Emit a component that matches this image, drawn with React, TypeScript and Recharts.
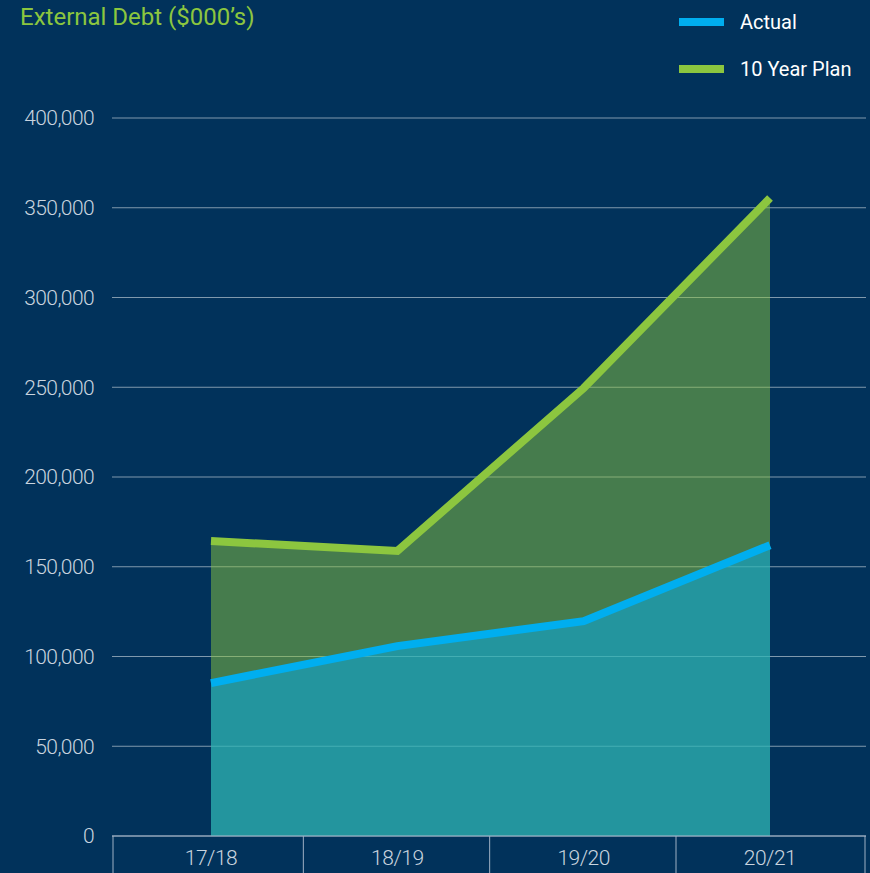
import { AreaChart, Area, XAxis, YAxis, CartesianGrid } from 'recharts'

const years = ['17/18', '18/19', '19/20', '20/21']
const actual = [85200, 105800, 119700, 162000]
const tenYearPlan = [164300, 158800, 249500, 355400]
const yTicks = [0, 50000, 100000, 150000, 200000, 250000, 300000, 350000, 400000]

const BG = '#01325b'
const GREEN = '#8cc63f'
const BLUE = '#00aeef'
const TEXT = '#c9d4df'
const FONT = 'Roboto, "Liberation Sans", Arial, sans-serif'

const data = years.map((year, i) => ({ year, actual: actual[i], plan: tenYearPlan[i] }))

// category label plus the short divider lines hanging under the axis
function YearTick(props: any) {
  const { x, y, payload, index } = props
  const left = index === 0 ? 98 : 94
  return (
    <g>
      <line x1={x - left} y1={y - 8} x2={x - left} y2={y + 40} stroke="#9fb0c4" strokeWidth={1} />
      {index === years.length - 1 && (
        <line x1={x + 95} y1={y - 8} x2={x + 95} y2={y + 40} stroke="#9fb0c4" strokeWidth={1} />
      )}
      <text
        x={x} y={y + 21} textAnchor="middle" fill={TEXT}
        fontSize={21} fontWeight={300} letterSpacing={-0.5} fontFamily={FONT}
      >
        {payload.value}
      </text>
    </g>
  )
}

function LegendRow({ color, label, top }: { color: string; label: string; top: number }) {
  return (
    <div style={{ position: 'absolute', left: 679, top, display: 'flex', alignItems: 'center' }}>
      <div style={{ width: 45, height: 8, background: color }} />
      <span style={{ marginLeft: 16, color: '#ffffff', fontSize: 20, fontFamily: FONT }}>{label}</span>
    </div>
  )
}

export default function App() {
  return (
    <div style={{ position: 'absolute', left: 0, top: 0, width: 870, height: 873, background: BG, overflow: 'hidden' }}>
      <div
        style={{
          position: 'absolute', left: 20, top: 3, color: GREEN,
          fontSize: 24, fontFamily: FONT,
        }}
      >
        External Debt ($000’s)
      </div>
      <LegendRow color={BLUE} label="Actual" top={10} />
      <LegendRow color={GREEN} label="10 Year Plan" top={57} />

      <AreaChart
        width={870}
        height={873}
        data={data}
        margin={{ top: 118, right: 4, left: 0, bottom: 0 }}
      >
        <CartesianGrid vertical={false} stroke="rgba(255,255,255,0.5)" strokeWidth={1} />
        <XAxis
          dataKey="year"
          padding={{ left: 99, right: 96 }}
          height={37}
          axisLine={{ stroke: '#9fb0c4' }}
          tickLine={false}
          tick={<YearTick />}
          interval={0}
        />
        <YAxis
          width={112}
          domain={[0, 400000]}
          ticks={yTicks}
          axisLine={false}
          tickLine={false}
          tickMargin={12}
          tickFormatter={(v: number) => v.toLocaleString('en-US')}
          tick={{ fill: TEXT, fontSize: 21, fontWeight: 300, letterSpacing: -0.6, fontFamily: FONT }}
        />
        <Area
          type="linear"
          dataKey="plan"
          stroke={GREEN}
          strokeWidth={8}
          fill={GREEN}
          fillOpacity={0.5}
          isAnimationActive={false}
        />
        <Area
          type="linear"
          dataKey="actual"
          stroke={BLUE}
          strokeWidth={8}
          fill={BLUE}
          fillOpacity={0.5}
          isAnimationActive={false}
        />
      </AreaChart>
    </div>
  )
}
